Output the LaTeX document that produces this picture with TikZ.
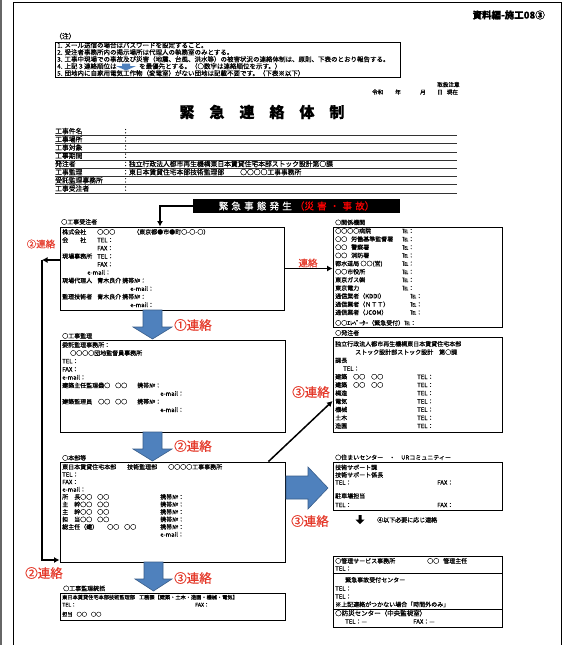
\documentclass[tikz,border=0pt]{standalone}
\usepackage{fontspec}
\setmainfont{Noto Sans CJK JP}[FakeBold=0.5]
\usetikzlibrary{arrows.meta,fit,calc}
\definecolor{urblue}{HTML}{4F81BD}
\definecolor{urblueedge}{HTML}{385D8A}
\definecolor{urred}{HTML}{E53A2B}
\newcommand\tn[5][]{\node[tx,#1] (#2) at (#3,{#4+2.2}) {#5};}
\newcommand\hs{\hspace{3.2pt}}
\begin{document}
\begin{tikzpicture}[x=1pt,y=-1pt,
  tx/.style={anchor=base west,inner sep=0pt,font=\fontsize{6}{7}\selectfont},
  f5/.style={font=\fontsize{5.2}{6}\selectfont},
  f55/.style={font=\fontsize{5.6}{6}\selectfont},
  f65/.style={font=\fontsize{6.5}{7}\selectfont},
  f7/.style={font=\fontsize{6.8}{8}\selectfont},
  boxst/.style={draw,line width=0.9pt,inner sep=0pt},
  redbig/.style={text=urred,inner sep=0pt,font=\fontsize{12.5}{13}\selectfont},
  redsm/.style={text=urred,inner sep=0pt,font=\fontsize{9.5}{10}\selectfont},
  conn/.style={line width=1.5pt,-{Latex[length=5.5pt,width=6pt]}},
  blk/.style={fill=urblue,draw=urblueedge,line width=0.6pt},
  rowline/.style={line width=0.9pt,black!80},
]
\useasboundingbox (0,0) rectangle (565,645);
\fill[white] (0,0) rectangle (565,645);
\draw[black!60,line width=1.2pt] (1,0) -- (1,645);
\draw[line width=0.9pt] (13,645) -- (13,2) -- (561,2) -- (561,645);

% header
\node[anchor=east,inner sep=0pt,font=\fontsize{9.5}{10}\selectfont\bfseries] (hdr) at (545,15) {資料編-施工08③};

% notes
\tn[f7]{nh}{55}{36.5}{（注）}
\node[boxst,fit={(55,42) (400,77)}] (nb) {};
\tn[f65]{n1}{57}{45.5}{1. メール送信の場合はパスワードを設定すること。}
\tn[f65]{n2}{57}{52.5}{2. 受注者事務所内の掲示場所は代理人の執務室のみとする。}
\tn[f65]{n3}{57}{59.5}{3. 工事中現場での事故及び災害（地震、台風、洪水等）の被害状況の連絡体制は、原則、下表のとおり報告する。}
\tn[f65]{n4}{57}{66.5}{4. 上記３連絡順位は}
\tn[f65]{n4b}{139}{66.5}{を最優先とする。（○数字は連絡順位を示す。）}
\tn[f65]{n5}{57}{73.5}{5. 団地内に自家用電気工作物（変電室）がない団地は記載不要です。（下表※以下）}
\fill[urblue] (122,63.5) -- (130,63.5) -- (130,66) -- (136,66) -- (126,70.5) -- (116,66) -- (122,66) -- cycle;

% date
\tn[f55]{toriatsu}{437}{84.5}{取扱注意}
\tn[f55]{rw}{372}{92}{令和}
\tn[f55]{ry}{395}{92}{年}
\tn[f55]{rm}{420}{92}{月}
\tn[f55]{rd}{437}{92}{日\hspace{4pt}現在}

% title
\node[inner sep=0pt,font=\fontsize{15}{16}\selectfont\bfseries] (title) at (262,112) {緊\hspace{15pt}急\hspace{15pt}連\hspace{15pt}絡\hspace{15pt}体\hspace{15pt}制};

% info table
\tn[f7]{r1}{55}{131.5}{工事件名}
\tn[f7]{r2}{55}{139.7}{工事場所}
\tn[f7]{r3}{55}{147.9}{工事対象}
\tn[f7]{r4}{55}{156.1}{工事期間}
\tn[f7]{r5}{55}{164.3}{発注者}
\tn[f7]{r6}{55}{172.5}{工事監理}
\tn[f7]{r7}{55}{180.7}{受託監理事務所}
\tn[f7]{r8}{55}{188.9}{工事受注者}
\tn[f7]{v1}{122}{131.5}{：}
\tn[f7]{v2}{122}{139.7}{：}
\tn[f7]{v3}{122}{147.9}{：}
\tn[f7]{v4}{122}{156.1}{：}
\tn[f7]{v5}{122}{164.3}{：独立行政法人都市再生機構東日本賃貸住宅本部ストック設計第○課}
\tn[f7]{v6}{122}{172.5}{：東日本賃貸住宅本部技術監理部}
\tn[f7]{v6b}{240}{172.5}{○○○○工事事務所}
\tn[f7]{v7}{122}{180.7}{：}
\tn[f7]{v8}{122}{188.9}{：}
\foreach \yy in {135.7,143.9,152.1,160.3,168.5,176.7,184.9,193.1}
  \draw[rowline] (55,\yy) -- (457,\yy);

% banner
\node[fill=black,inner sep=0pt,fit={(193,199) (400,213)}] (bn) {};
\node[inner sep=0pt,font=\fontsize{9.5}{10}\selectfont] (bnt) at (bn.center) {\textcolor{white}{緊\hs{}急\hs{}事\hs{}態\hs{}発\hs{}生}\hs{}\textcolor{red}{（災\hs{}害\hs{}・\hs{}事\hs{}故）}};

% ===== left column =====
% 工事受注者
\tn{kbl}{61}{222}{○工事受注者}
\node[boxst,fit={(60,227) (284,310)}] (kb) {};
\tn{k0a}{62}{232}{株式会社}
\tn{k0b}{97}{232}{○○○}
\tn{k0c}{133}{232}{（東京都●市●町○-○-○）}
\tn{k1a}{62}{240.1}{会\hspace{12pt}社}
\tn{k1b}{97}{240.1}{TEL：}
\tn{k2b}{97}{248.2}{FAX：}
\tn{k3a}{62}{256.3}{現場事務所}
\tn{k3b}{97}{256.3}{TEL：}
\tn{k4b}{97}{264.4}{FAX：}
\tn{k5b}{87}{272.5}{e-mail：}
\tn{k6a}{62}{280.6}{現場代理人}
\tn{k6b}{97}{280.6}{青木良介}
\tn{k6c}{122}{280.6}{携帯№：}
\tn{k7c}{130}{288.7}{e-mail：}
\tn{k8a}{62}{296.8}{監理技術者}
\tn{k8b}{97}{296.8}{青木良介}
\tn{k8c}{122}{296.8}{携帯№：}
\tn{k9c}{130}{304.9}{e-mail：}

% 工事監理
\tn{kml}{62}{336}{○工事監理}
\node[boxst,fit={(60,340) (285,432)}] (km) {};
\tn{m0}{62}{345}{委託監理事務所：}
\tn{m1}{70}{353.1}{○○○○団地監督員事務所}
\tn{m2}{62}{361.2}{TEL：}
\tn{m3}{62}{369.3}{FAX：}
\tn{m4}{62}{377.4}{e-mail：}
\tn{m5a}{62}{385.5}{建築主任監理員}
\tn{m5b}{98}{385.5}{○○\hspace{5pt}○○}
\tn{m5c}{137}{385.5}{携帯№：}
\tn{m6c}{160}{393.6}{e-mail：}
\tn{m7a}{62}{401.7}{建築監理員}
\tn{m7b}{98}{401.7}{○○\hspace{5pt}○○}
\tn{m7c}{137}{401.7}{携帯№：}
\tn{m8c}{160}{409.8}{e-mail：}

% 本部等
\tn{hbl}{62}{458}{○本部等}
\node[boxst,fit={(60,462) (285,562)}] (hb) {};
\tn{h0a}{62}{467}{東日本賃貸住宅本部}
\tn{h0b}{127}{467}{技術監理部}
\tn{h0c}{168}{467}{○○○○工事事務所}
\tn{h1}{62}{474.5}{TEL：}
\tn{h2}{62}{482}{FAX：}
\tn{h3}{62}{489.5}{e-mail：}
\tn{h4a}{62}{497}{所\hspace{6pt}長}
\tn{h4b}{80}{497}{○○\hspace{5pt}○○}
\tn{h4c}{160}{497}{携帯№：}
\tn{h5a}{62}{504.5}{主\hspace{6pt}幹}
\tn{h5b}{80}{504.5}{○○\hspace{5pt}○○}
\tn{h5c}{160}{504.5}{携帯№：}
\tn{h6a}{62}{512}{主\hspace{6pt}幹}
\tn{h6b}{80}{512}{○○\hspace{5pt}○○}
\tn{h6c}{160}{512}{携帯№：}
\tn{h7a}{62}{519.5}{担\hspace{6pt}当}
\tn{h7b}{80}{519.5}{○○\hspace{5pt}○○}
\tn{h7c}{160}{519.5}{携帯№：}
\tn{h8a}{62}{527}{総主任（建）}
\tn{h8b}{107}{527}{○○\hspace{5pt}○○}
\tn{h8c}{160}{527}{携帯№：}
\tn{h9c}{160}{534.5}{e-mail：}

% 工事監理統括
\tn{tol}{63}{588.5}{○工事監理統括}
\node[boxst,fit={(60,593) (285,620)}] (tb) {};
\tn[f5]{t0}{62}{597}{東日本賃貸住宅本部技術監理部\hspace{4pt}工務課【建築・土木・造園・機械・電気】}
\tn[f5]{t1a}{62}{604.5}{TEL：}
\tn[f5]{t1b}{195}{604.5}{FAX：}
\tn[f5]{t2}{62}{614}{担当\hspace{4pt}○○\hspace{4pt}○○}

% ===== right column =====
% 関係機関
\tn{kkl}{335}{222.5}{○関係機関}
\node[boxst,fit={(333,227) (502,327)}] (kk) {};
\tn{g0}{335}{231}{○○○○病院}
\tn{g1}{335}{239.2}{○○\hspace{4pt}労働基準監督署}
\tn{g2}{335}{247.3}{○○\hspace{4pt}警察署}
\tn{g3}{335}{255.5}{○○\hspace{4pt}消防署}
\tn{g4}{335}{263.6}{都水道局 ○○(営)}
\tn{g5}{335}{271.8}{○○市役所}
\tn{g6}{335}{279.9}{東京ガス㈱}
\tn{g7}{335}{288.1}{東京電力}
\tn{g8}{335}{296.2}{通信業者（KDDI）}
\tn{g9}{335}{304.4}{通信業者（ＮＴＴ）}
\tn{g10}{335}{312.5}{通信業者（JCOM）}
\tn{g11}{335}{323}{○○ｴﾚﾍﾞｰﾀｰ（緊急受付）℡：}
\tn{gt0}{402}{231}{℡：}
\tn{gt1}{402}{239.2}{℡：}
\tn{gt2}{402}{247.3}{℡：}
\tn{gt3}{402}{255.5}{℡：}
\tn{gt4}{402}{263.6}{℡：}
\tn{gt5}{402}{271.8}{℡：}
\tn{gt6}{402}{279.9}{℡：}
\tn{gt7}{402}{288.1}{℡：}
\tn{gt8}{410}{296.2}{℡：}
\tn{gt9}{410}{304.4}{℡：}
\tn{gt10}{410}{312.5}{℡：}

% 発注者
\tn{hcl}{335}{333}{○発注者}
\node[boxst,fit={(333,337) (502,432)}] (hc) {};
\tn{c0}{335}{344}{独立行政法人都市再生機構東日本賃貸住宅本部}
\tn{c1}{355}{352.2}{ストック設計部ストック設計\hspace{6pt}第○課}
\tn{c2}{335}{360.4}{課長}
\tn{c3}{343}{368.6}{TEL：}
\tn{c4}{335}{376.8}{建築\hspace{6pt}○○\hspace{6pt}○○}
\tn{c5}{335}{385}{建築\hspace{6pt}○○\hspace{6pt}○○}
\tn{c6}{335}{393.2}{構造}
\tn{c7}{335}{401.4}{電気}
\tn{c8}{335}{409.6}{機械}
\tn{c9}{335}{417.8}{土木}
\tn{c10}{335}{426}{造園}
\tn{ct4}{417}{376.8}{TEL：}
\tn{ct5}{417}{385}{TEL：}
\tn{ct6}{417}{393.2}{TEL：}
\tn{ct7}{417}{401.4}{TEL：}
\tn{ct8}{417}{409.6}{TEL：}
\tn{ct9}{417}{417.8}{TEL：}
\tn{ct10}{417}{426}{TEL：}

% 住まいセンター
\tn{scl}{335}{457.5}{○住まいセンター\hspace{6pt}・\hspace{6pt}URコミュニティー}
\node[boxst,fit={(333,462) (502,510)}] (sc) {};
\tn{s0}{335}{467.5}{技術サポート課}
\tn{s1}{335}{475}{技術サポート係長}
\tn{s2}{335}{482.5}{TEL：}
\tn{s2b}{437}{482.5}{FAX：}
\tn{s3}{335}{496}{駐車場担当}
\tn{s4}{335}{505}{TEL：}
\tn{s4b}{437}{505}{FAX：}

\fill (358.5,515) -- (361.5,515) -- (361.5,519.5) -- (364.5,519.5) -- (360,524) -- (355.5,519.5) -- (358.5,519.5) -- cycle;
\tn{s5}{377}{520}{④以下必要に応じ連絡}

% 管理サービス
\node[boxst,fit={(333,556) (502,627)}] (ms) {};
\draw[line width=0.9pt] (ms.west |- 0,573) -- (ms.east |- 0,573);
\draw[line width=0.9pt] (ms.west |- 0,609) -- (ms.east |- 0,609);
\tn{q0}{335}{561}{○管理サービス事務所}
\tn{q0b}{427}{561}{○○\hspace{4pt}管理主任}
\tn{q1}{335}{568.5}{TEL：}
\tn{q2}{345}{580}{緊急事故受付センター}
\tn{q3}{335}{588.5}{TEL：}
\tn{q4}{335}{596.5}{TEL：}
\tn{q5}{335}{604.5}{※上記連絡がつかない場合「時間外のみ」}
\tn[f65]{q6}{335}{613.5}{○防災センター（中央監視室）}
\tn{q7}{345}{621.5}{TEL：—}
\tn{q7b}{413}{621.5}{FAX：—}

% ===== arrows =====
\draw[conn] (bn.west) -| (kb.north -| 160,0);
\draw[conn] (kb.east) -- (kk.west |- kb.east);
\coordinate (brk) at (42,260);
\draw[conn] (kb.west |- brk) -- (brk);
\draw[conn] (brk) |- (hb.west |- 0,560);

\draw[conn] ($(hb.north east)+(-17,0)$) -- (hc.west |- 0,401);

% blue block arrows
\draw[blk] (143,310) -- (162,310) -- (162,327) -- (172,327) -- (152.5,339) -- (133,327) -- (143,327) -- cycle;
\draw[blk] (143,432) -- (162,432) -- (162,449) -- (172,449) -- (152.5,461) -- (133,449) -- (143,449) -- cycle;
\draw[blk] (144,562) -- (163,562) -- (163,579) -- (172,579) -- (153.5,591) -- (135,579) -- (144,579) -- cycle;
\draw[blk] (286,476) -- (308,476) -- (308,467) -- (328,488) -- (308,509) -- (308,499) -- (286,499) -- cycle;

% red labels
\node[redsm] (l1) at (41,244) {②連絡};
\node[redbig] (l2) at (193,325) {①連絡};
\node[redbig] (l3) at (193,446) {②連絡};
\node[redbig] (l4) at (193,578) {③連絡};
\node[redbig] (l5) at (44,573) {②連絡};
\node[redsm] (l6) at (308,263) {連絡};
\node[redbig] (l7) at (311,392) {③連絡};
\node[redbig] (l8) at (310,521) {③連絡};
\end{tikzpicture}
\end{document}
